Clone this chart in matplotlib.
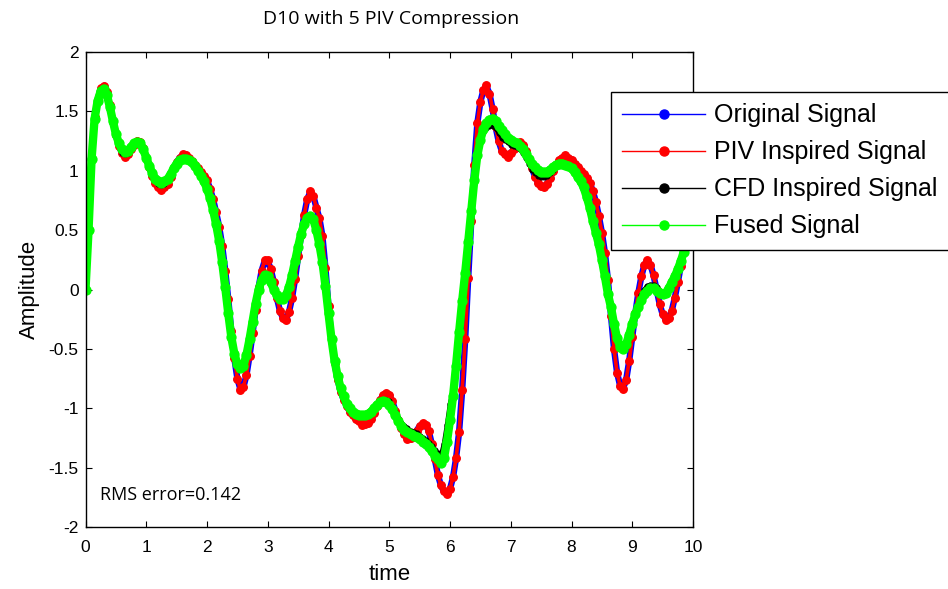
import numpy as np
import matplotlib.pyplot as plt
from matplotlib.lines import Line2D

# time axis, 0.05 step
t = np.linspace(0, 10, 201)

original = [
    0.00, 0.50, 1.10, 1.45, 1.60, 1.69, 1.71, 1.66, 1.55, 1.42,
    1.30, 1.21, 1.15, 1.13, 1.14, 1.18, 1.22, 1.25, 1.24, 1.19,
    1.11, 1.03, 0.96, 0.90, 0.87, 0.85, 0.86, 0.89, 0.95, 1.02,
    1.07, 1.11, 1.13, 1.13, 1.11, 1.08, 1.05, 1.02, 0.99, 0.96,
    0.92, 0.85, 0.76, 0.65, 0.53, 0.37, 0.16, -0.08, -0.35, -0.58,
    -0.75, -0.84, -0.82, -0.72, -0.56, -0.37, -0.17, 0.02, 0.16, 0.24,
    0.24, 0.17, 0.06, -0.07, -0.18, -0.24, -0.25, -0.19, -0.07, 0.09,
    0.28, 0.46, 0.63, 0.76, 0.82, 0.79, 0.69, 0.60, 0.45, 0.18,
    -0.14, -0.42, -0.62, -0.76, -0.86, -0.93, -0.98, -1.03, -1.06, -1.09,
    -1.11, -1.13, -1.13, -1.12, -1.09, -1.04, -0.98, -0.93, -0.89, -0.88,
    -0.89, -0.94, -1.02, -1.10, -1.17, -1.22, -1.25, -1.25, -1.23, -1.19,
    -1.15, -1.13, -1.14, -1.19, -1.30, -1.43, -1.56, -1.65, -1.70, -1.71,
    -1.68, -1.58, -1.42, -1.20, -0.85, -0.42, 0.10, 0.58, 1.05, 1.40,
    1.58, 1.68, 1.71, 1.65, 1.52, 1.37, 1.25, 1.17, 1.14, 1.13,
    1.15, 1.18, 1.21, 1.23, 1.22, 1.17, 1.10, 1.02, 0.95, 0.90,
    0.87, 0.87, 0.89, 0.94, 1.00, 1.05, 1.09, 1.11, 1.12, 1.11,
    1.09, 1.06, 1.03, 1.00, 0.97, 0.94, 0.90, 0.83, 0.74, 0.62,
    0.48, 0.31, 0.08, -0.22, -0.50, -0.70, -0.81, -0.83, -0.76, -0.60,
    -0.40, -0.20, -0.03, 0.11, 0.21, 0.24, 0.21, 0.12, 0.00, -0.12,
    -0.21, -0.25, -0.24, -0.18, -0.07, 0.06, 0.20, 0.32, 0.45, 0.60,
    0.72,
]

piv = [
    0.00, 0.50, 1.10, 1.45, 1.60, 1.70, 1.71, 1.66, 1.55, 1.42,
    1.30, 1.21, 1.15, 1.12, 1.14, 1.18, 1.22, 1.25, 1.24, 1.19,
    1.11, 1.03, 0.96, 0.90, 0.86, 0.84, 0.86, 0.89, 0.95, 1.02,
    1.07, 1.11, 1.14, 1.13, 1.11, 1.08, 1.05, 1.02, 0.99, 0.96,
    0.92, 0.85, 0.76, 0.65, 0.53, 0.37, 0.16, -0.08, -0.35, -0.58,
    -0.75, -0.85, -0.82, -0.72, -0.56, -0.37, -0.17, 0.02, 0.16, 0.25,
    0.25, 0.17, 0.06, -0.07, -0.18, -0.24, -0.26, -0.19, -0.07, 0.09,
    0.28, 0.46, 0.63, 0.76, 0.83, 0.79, 0.69, 0.60, 0.45, 0.18,
    -0.14, -0.42, -0.62, -0.76, -0.86, -0.93, -0.98, -1.03, -1.06, -1.09,
    -1.11, -1.14, -1.13, -1.12, -1.09, -1.04, -0.98, -0.93, -0.89, -0.87,
    -0.89, -0.94, -1.02, -1.10, -1.17, -1.22, -1.26, -1.25, -1.23, -1.19,
    -1.15, -1.12, -1.14, -1.19, -1.30, -1.43, -1.56, -1.65, -1.70, -1.72,
    -1.68, -1.58, -1.42, -1.20, -0.85, -0.42, 0.10, 0.58, 1.05, 1.40,
    1.58, 1.68, 1.72, 1.65, 1.52, 1.37, 1.25, 1.17, 1.14, 1.12,
    1.15, 1.18, 1.21, 1.24, 1.22, 1.17, 1.10, 1.02, 0.95, 0.90,
    0.87, 0.86, 0.89, 0.94, 1.00, 1.05, 1.09, 1.11, 1.13, 1.11,
    1.09, 1.06, 1.03, 1.00, 0.97, 0.94, 0.90, 0.83, 0.74, 0.62,
    0.48, 0.31, 0.08, -0.22, -0.50, -0.70, -0.81, -0.84, -0.76, -0.60,
    -0.40, -0.20, -0.03, 0.11, 0.21, 0.25, 0.21, 0.12, 0.00, -0.12,
    -0.21, -0.26, -0.24, -0.18, -0.07, 0.06, 0.20, 0.32, 0.45, 0.60,
    0.72,
]

cfd = [
    0.00, 0.50, 1.10, 1.44, 1.59, 1.67, 1.69, 1.64, 1.54, 1.42,
    1.31, 1.21, 1.15, 1.14, 1.15, 1.19, 1.23, 1.24, 1.23, 1.18,
    1.11, 1.04, 0.98, 0.93, 0.89, 0.88, 0.89, 0.93, 0.97, 1.02,
    1.06, 1.09, 1.10, 1.10, 1.09, 1.07, 1.04, 1.00, 0.96, 0.91,
    0.85, 0.77, 0.67, 0.55, 0.41, 0.23, 0.02, -0.20, -0.40, -0.54,
    -0.63, -0.66, -0.64, -0.55, -0.42, -0.27, -0.12, 0.00, 0.08, 0.12,
    0.11, 0.06, 0.00, -0.05, -0.08, -0.08, -0.05, 0.02, 0.12, 0.24,
    0.36, 0.47, 0.55, 0.60, 0.62, 0.59, 0.50, 0.38, 0.23, 0.03,
    -0.20, -0.42, -0.60, -0.73, -0.83, -0.90, -0.96, -1.00, -1.03, -1.05,
    -1.06, -1.06, -1.06, -1.05, -1.03, -1.00, -0.97, -0.95, -0.94, -0.93,
    -0.94, -0.98, -1.03, -1.08, -1.12, -1.15, -1.17, -1.19, -1.20, -1.21,
    -1.23, -1.25, -1.27, -1.29, -1.32, -1.35, -1.38, -1.40, -1.30, -1.14,
    -0.96, -0.84, -0.62, -0.36, -0.10, 0.14, 0.40, 0.66, 0.92, 1.13,
    1.26, 1.33, 1.36, 1.38, 1.38, 1.36, 1.32, 1.28, 1.26, 1.24,
    1.22, 1.21, 1.20, 1.18, 1.15, 1.11, 1.06, 1.01, 0.98, 0.96,
    0.95, 0.95, 0.96, 0.98, 1.01, 1.04, 1.06, 1.06, 1.05, 1.04,
    1.02, 0.99, 0.95, 0.91, 0.86, 0.78, 0.69, 0.58, 0.48, 0.38,
    0.25, 0.11, -0.04, -0.15, -0.29, -0.41, -0.48, -0.50, -0.46, -0.38,
    -0.29, -0.21, -0.12, -0.05, 0.00, 0.03, 0.04, 0.04, 0.02, -0.01,
    -0.03, -0.03, 0.01, 0.06, 0.11, 0.17, 0.24, 0.32, 0.42, 0.54,
    0.66,
]

fused = [
    0.00, 0.50, 1.10, 1.44, 1.59, 1.67, 1.69, 1.64, 1.54, 1.42,
    1.31, 1.23, 1.18, 1.16, 1.17, 1.20, 1.23, 1.24, 1.23, 1.18,
    1.11, 1.04, 0.98, 0.93, 0.91, 0.90, 0.91, 0.93, 0.97, 1.02,
    1.06, 1.09, 1.10, 1.10, 1.09, 1.07, 1.04, 1.00, 0.96, 0.91,
    0.85, 0.77, 0.67, 0.55, 0.41, 0.23, 0.02, -0.20, -0.40, -0.54,
    -0.63, -0.66, -0.64, -0.55, -0.42, -0.27, -0.12, 0.00, 0.08, 0.12,
    0.11, 0.06, 0.00, -0.05, -0.08, -0.08, -0.05, 0.02, 0.12, 0.24,
    0.36, 0.47, 0.55, 0.60, 0.62, 0.59, 0.50, 0.38, 0.23, 0.03,
    -0.20, -0.42, -0.60, -0.73, -0.83, -0.90, -0.96, -1.00, -1.03, -1.05,
    -1.06, -1.06, -1.06, -1.05, -1.03, -1.00, -0.97, -0.95, -0.94, -0.95,
    -0.97, -1.01, -1.06, -1.11, -1.15, -1.18, -1.20, -1.22, -1.23, -1.24,
    -1.26, -1.28, -1.30, -1.33, -1.36, -1.40, -1.43, -1.46, -1.42, -1.28,
    -1.10, -0.90, -0.64, -0.36, -0.10, 0.14, 0.40, 0.66, 0.92, 1.13,
    1.26, 1.35, 1.40, 1.43, 1.44, 1.42, 1.38, 1.34, 1.31, 1.28,
    1.26, 1.24, 1.23, 1.21, 1.18, 1.14, 1.10, 1.06, 1.03, 1.01,
    0.99, 0.99, 0.99, 1.01, 1.03, 1.05, 1.06, 1.06, 1.05, 1.04,
    1.02, 0.99, 0.95, 0.91, 0.86, 0.78, 0.69, 0.58, 0.48, 0.38,
    0.25, 0.11, -0.04, -0.15, -0.29, -0.41, -0.48, -0.50, -0.46, -0.38,
    -0.29, -0.21, -0.15, -0.09, -0.04, -0.01, 0.01, 0.01, -0.01, -0.03,
    -0.04, -0.03, 0.01, 0.06, 0.11, 0.17, 0.24, 0.32, 0.42, 0.54,
    0.66,
]

series_names = ['Original Signal', 'PIV Inspired Signal', 'CFD Inspired Signal', 'Fused Signal']
series_colors = ['#0000ff', '#ff0000', '#000000', '#00ff00']
xtick_vals = list(range(0, 11))
ytick_vals = [-2, -1.5, -1, -0.5, 0, 0.5, 1, 1.5, 2]
ytick_labels = ['-2', '-1.5', '-1', '-0.5', '0', '0.5', '1', '1.5', '2']

plt.rcParams['font.family'] = ['Liberation Sans', 'DejaVu Sans']

fig = plt.figure(figsize=(9.48, 5.89), dpi=100)
ax = fig.add_axes([85.5 / 948, 1 - 527 / 589, 607.5 / 948, 475 / 589])

# the dense dots in the original read as thick bands, so thick line + dots
band_lw = [4.6, 2.6, 3.2, 6.0]
dot_ms = [4.6, 5.4, 3.4, 6.4]
for y, c, lw, ms in zip([original, piv, cfd, fused], series_colors, band_lw, dot_ms):
    ax.plot(t, y, color=c, lw=lw, marker='o', ms=ms, mec=c, mfc=c,
            solid_capstyle='round', solid_joinstyle='round')

ax.set_xlim(0, 10)
ax.set_ylim(-2, 2)
ax.set_xticks(xtick_vals)
ax.set_yticks(ytick_vals)
ax.set_yticklabels(ytick_labels)
ax.tick_params(direction='in', top=True, right=True, length=4, width=0.8,
               labelsize=12.5)
ax.tick_params(axis='x', pad=9)
ax.tick_params(axis='y', pad=5)
for s in ax.spines.values():
    s.set_linewidth(1.0)

ax.set_xlabel('time', fontsize=16, labelpad=7)
ax.set_ylabel('Amplitude', fontsize=16, labelpad=6)

ax.text(0.024, 0.068, 'RMS error=0.142', transform=ax.transAxes,
        fontsize=13, family=['Open Sans', 'DejaVu Sans'], va='center')
fig.text(391 / 948, 1 - 19 / 589, 'D10 with 5 PIV Compression',
         fontsize=14, family=['Open Sans', 'DejaVu Sans'], ha='center', va='center')

handles = [Line2D([], [], color=c, lw=1, marker='o', ms=6.5) for c in series_colors]
leg = fig.legend(handles, series_names, loc='upper left',
                 bbox_to_anchor=(611 / 948, 1 - 92 / 589), bbox_transform=fig.transFigure,
                 fontsize=18, fancybox=False, framealpha=1, edgecolor='black',
                 handlelength=3.3, handletextpad=0.38, borderpad=0.45,
                 labelspacing=0.52, borderaxespad=0)
leg.get_frame().set_linewidth(1.0)

fig.savefig('out.png', dpi=100)
